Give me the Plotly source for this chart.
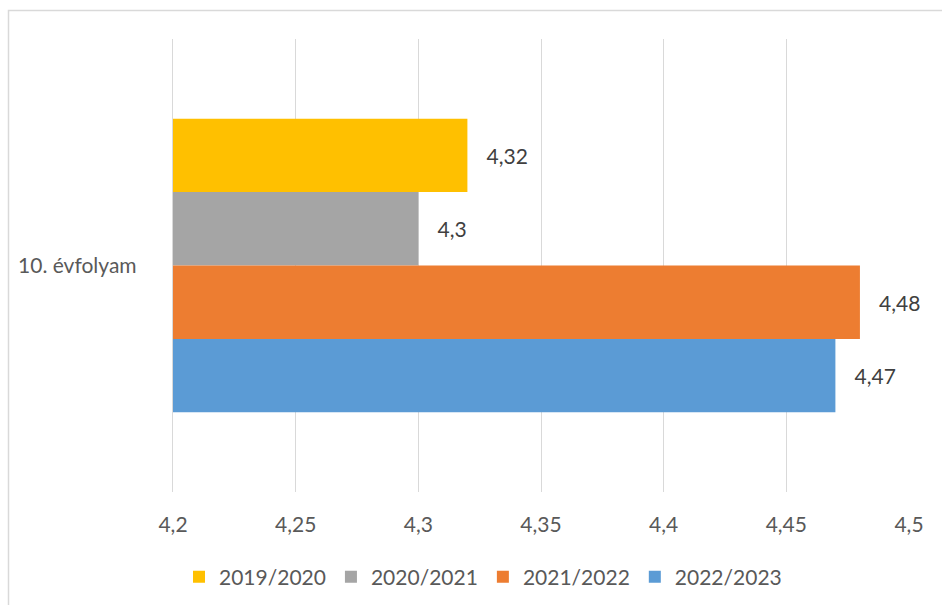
import plotly.graph_objects as go

categories = ["10. évfolyam"]
series_names = ["2019/2020", "2020/2021", "2021/2022", "2022/2023"]
series_values = [[4.32], [4.30], [4.48], [4.47]]
series_colors = ["#FFC000", "#A5A5A5", "#ED7D31", "#5B9BD5"]
tick_vals = [4.2, 4.25, 4.3, 4.35, 4.4, 4.45, 4.5]
tick_text = ["4,2", "4,25", "4,3", "4,35", "4,4", "4,45", "4,5"]

FONT = "Lato, 'Open Sans', sans-serif"
FS = 21
PAD = "\u00a0\u00a0\u00a0"

fig = go.Figure()
for name, vals, col in zip(series_names, series_values, series_colors):
    labels = [PAD + ("%g" % v).replace(".", ",") for v in vals]
    fig.add_trace(go.Bar(
        y=categories, x=vals, name=name, orientation="h",
        marker=dict(color=col, line=dict(width=0)),
        text=labels, textposition="outside", cliponaxis=False,
        textfont=dict(family=FONT, size=FS, color="#404040"),
    ))

W, H = 942, 605
ml, mr, mt, mb = 173, 33, 39, 113
pw, ph = W - ml - mr, H - mt - mb
def px_x(p):
    return (p - ml) / pw
def px_y(p):
    return (H - mb - p) / ph

fig.update_layout(
    width=W, height=H,
    margin=dict(l=ml, r=mr, t=mt, b=mb, autoexpand=False),
    paper_bgcolor="white", plot_bgcolor="white",
    barmode="group", bargap=0.352, bargroupgap=0,
    font=dict(family=FONT, size=FS, color="#595959"),
    xaxis=dict(range=[4.2, 4.5], tickvals=tick_vals, ticktext=tick_text,
               showgrid=True, gridcolor="#D9D9D9", gridwidth=1.3,
               zeroline=False, showline=False, ticks="", ticklabelstandoff=18,
               automargin=False,
               tickfont=dict(family=FONT, size=FS, color="#595959")),
    yaxis=dict(range=[0.5, -0.5], showgrid=False, zeroline=False,
               showline=True, linecolor="#D9D9D9", linewidth=1.3,
               ticks="", ticklabelstandoff=31, automargin=False,
               tickfont=dict(family=FONT, size=FS, color="#595959")),
    legend=dict(orientation="h", x=px_x(483), xanchor="center",
                y=px_y(577), yanchor="middle",
                font=dict(family=FONT, size=FS, color="#595959"),
                itemwidth=30, tracegroupgap=0),
    showlegend=True,
    shapes=[dict(type="rect", xref="paper", yref="paper",
                 x0=px_x(8.5), x1=px_x(960), y0=px_y(10.5), y1=px_y(640),
                 line=dict(color="#D9D9D9", width=1.5), layer="below")],
)

fig.write_html("out.html")
